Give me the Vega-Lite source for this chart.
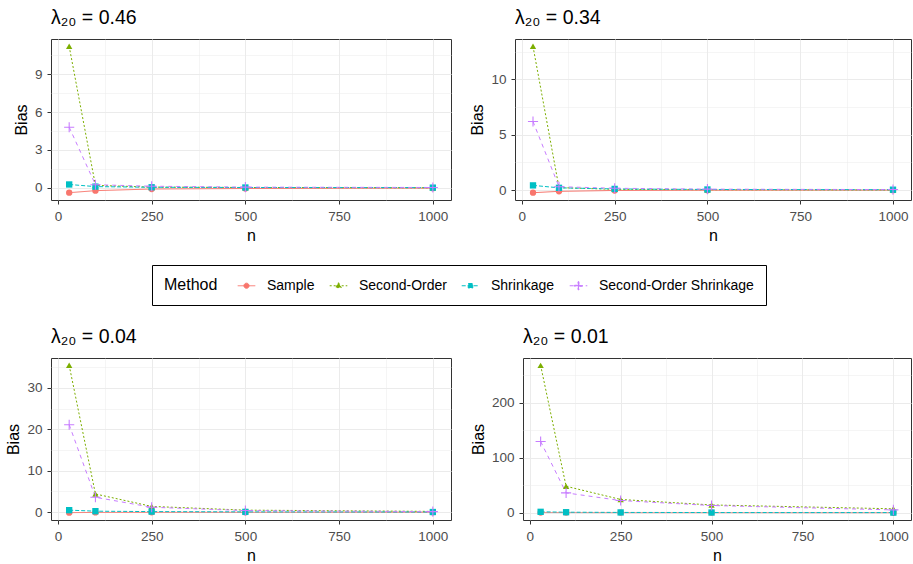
{
  "$schema": "https://vega.github.io/schema/vega-lite/v6.json",
  "padding": {"left": 5, "top": 7, "right": 0, "bottom": 0},
  "background": "white",
  "datasets": {
    "bias": [
      {"lam": "0.46", "n": 30, "Method": "Sample", "Bias": -0.38},
      {"lam": "0.46", "n": 100, "Method": "Sample", "Bias": -0.22},
      {"lam": "0.46", "n": 250, "Method": "Sample", "Bias": -0.09},
      {"lam": "0.46", "n": 500, "Method": "Sample", "Bias": -0.05},
      {"lam": "0.46", "n": 1000, "Method": "Sample", "Bias": -0.02},
      {"lam": "0.46", "n": 30, "Method": "Second-Order", "Bias": 11.2},
      {"lam": "0.46", "n": 100, "Method": "Second-Order", "Bias": 0.2},
      {"lam": "0.46", "n": 250, "Method": "Second-Order", "Bias": 0.06},
      {"lam": "0.46", "n": 500, "Method": "Second-Order", "Bias": 0.03},
      {"lam": "0.46", "n": 1000, "Method": "Second-Order", "Bias": 0.01},
      {"lam": "0.46", "n": 30, "Method": "Shrinkage", "Bias": 0.27},
      {"lam": "0.46", "n": 100, "Method": "Shrinkage", "Bias": 0.1},
      {"lam": "0.46", "n": 250, "Method": "Shrinkage", "Bias": 0.05},
      {"lam": "0.46", "n": 500, "Method": "Shrinkage", "Bias": 0.03},
      {"lam": "0.46", "n": 1000, "Method": "Shrinkage", "Bias": 0.02},
      {"lam": "0.46", "n": 30, "Method": "Second-Order Shrinkage", "Bias": 4.8},
      {"lam": "0.46", "n": 100, "Method": "Second-Order Shrinkage", "Bias": 0.25},
      {"lam": "0.46", "n": 250, "Method": "Second-Order Shrinkage", "Bias": 0.13},
      {"lam": "0.46", "n": 500, "Method": "Second-Order Shrinkage", "Bias": 0.06},
      {"lam": "0.46", "n": 1000, "Method": "Second-Order Shrinkage", "Bias": 0.03},

      {"lam": "0.34", "n": 30, "Method": "Sample", "Bias": -0.24},
      {"lam": "0.34", "n": 100, "Method": "Sample", "Bias": -0.12},
      {"lam": "0.34", "n": 250, "Method": "Sample", "Bias": -0.04},
      {"lam": "0.34", "n": 500, "Method": "Sample", "Bias": -0.02},
      {"lam": "0.34", "n": 1000, "Method": "Sample", "Bias": -0.01},
      {"lam": "0.34", "n": 30, "Method": "Second-Order", "Bias": 13.0},
      {"lam": "0.34", "n": 100, "Method": "Second-Order", "Bias": 0.22},
      {"lam": "0.34", "n": 250, "Method": "Second-Order", "Bias": 0.06},
      {"lam": "0.34", "n": 500, "Method": "Second-Order", "Bias": 0.03},
      {"lam": "0.34", "n": 1000, "Method": "Second-Order", "Bias": 0.01},
      {"lam": "0.34", "n": 30, "Method": "Shrinkage", "Bias": 0.42},
      {"lam": "0.34", "n": 100, "Method": "Shrinkage", "Bias": 0.2},
      {"lam": "0.34", "n": 250, "Method": "Shrinkage", "Bias": 0.1},
      {"lam": "0.34", "n": 500, "Method": "Shrinkage", "Bias": 0.05},
      {"lam": "0.34", "n": 1000, "Method": "Shrinkage", "Bias": 0.03},
      {"lam": "0.34", "n": 30, "Method": "Second-Order Shrinkage", "Bias": 6.2},
      {"lam": "0.34", "n": 100, "Method": "Second-Order Shrinkage", "Bias": 0.3},
      {"lam": "0.34", "n": 250, "Method": "Second-Order Shrinkage", "Bias": 0.16},
      {"lam": "0.34", "n": 500, "Method": "Second-Order Shrinkage", "Bias": 0.08},
      {"lam": "0.34", "n": 1000, "Method": "Second-Order Shrinkage", "Bias": 0.04},

      {"lam": "0.04", "n": 30, "Method": "Sample", "Bias": -0.1},
      {"lam": "0.04", "n": 100, "Method": "Sample", "Bias": -0.05},
      {"lam": "0.04", "n": 250, "Method": "Sample", "Bias": -0.03},
      {"lam": "0.04", "n": 500, "Method": "Sample", "Bias": -0.02},
      {"lam": "0.04", "n": 1000, "Method": "Sample", "Bias": -0.01},
      {"lam": "0.04", "n": 30, "Method": "Second-Order", "Bias": 35.4},
      {"lam": "0.04", "n": 100, "Method": "Second-Order", "Bias": 4.4},
      {"lam": "0.04", "n": 250, "Method": "Second-Order", "Bias": 1.4},
      {"lam": "0.04", "n": 500, "Method": "Second-Order", "Bias": 0.5},
      {"lam": "0.04", "n": 1000, "Method": "Second-Order", "Bias": 0.2},
      {"lam": "0.04", "n": 30, "Method": "Shrinkage", "Bias": 0.5},
      {"lam": "0.04", "n": 100, "Method": "Shrinkage", "Bias": 0.25},
      {"lam": "0.04", "n": 250, "Method": "Shrinkage", "Bias": 0.15},
      {"lam": "0.04", "n": 500, "Method": "Shrinkage", "Bias": 0.08},
      {"lam": "0.04", "n": 1000, "Method": "Shrinkage", "Bias": 0.05},
      {"lam": "0.04", "n": 30, "Method": "Second-Order Shrinkage", "Bias": 21.1},
      {"lam": "0.04", "n": 100, "Method": "Second-Order Shrinkage", "Bias": 3.6},
      {"lam": "0.04", "n": 250, "Method": "Second-Order Shrinkage", "Bias": 1.2},
      {"lam": "0.04", "n": 500, "Method": "Second-Order Shrinkage", "Bias": 0.4},
      {"lam": "0.04", "n": 1000, "Method": "Second-Order Shrinkage", "Bias": 0.15},

      {"lam": "0.01", "n": 30, "Method": "Sample", "Bias": 0.3},
      {"lam": "0.01", "n": 100, "Method": "Sample", "Bias": 0.2},
      {"lam": "0.01", "n": 250, "Method": "Sample", "Bias": 0.1},
      {"lam": "0.01", "n": 500, "Method": "Sample", "Bias": 0.05},
      {"lam": "0.01", "n": 1000, "Method": "Sample", "Bias": 0.02},
      {"lam": "0.01", "n": 30, "Method": "Second-Order", "Bias": 268},
      {"lam": "0.01", "n": 100, "Method": "Second-Order", "Bias": 48},
      {"lam": "0.01", "n": 250, "Method": "Second-Order", "Bias": 24},
      {"lam": "0.01", "n": 500, "Method": "Second-Order", "Bias": 14},
      {"lam": "0.01", "n": 1000, "Method": "Second-Order", "Bias": 7},
      {"lam": "0.01", "n": 30, "Method": "Shrinkage", "Bias": 1.5},
      {"lam": "0.01", "n": 100, "Method": "Shrinkage", "Bias": 0.8},
      {"lam": "0.01", "n": 250, "Method": "Shrinkage", "Bias": 0.4},
      {"lam": "0.01", "n": 500, "Method": "Shrinkage", "Bias": 0.2},
      {"lam": "0.01", "n": 1000, "Method": "Shrinkage", "Bias": 0.1},
      {"lam": "0.01", "n": 30, "Method": "Second-Order Shrinkage", "Bias": 129.5},
      {"lam": "0.01", "n": 100, "Method": "Second-Order Shrinkage", "Bias": 36},
      {"lam": "0.01", "n": 250, "Method": "Second-Order Shrinkage", "Bias": 22},
      {"lam": "0.01", "n": 500, "Method": "Second-Order Shrinkage", "Bias": 13},
      {"lam": "0.01", "n": 1000, "Method": "Second-Order Shrinkage", "Bias": 5}
    ]
  },
  "columns": 1,
  "align": "none",
  "spacing": 82,
  "resolve": {
    "scale": {"x": "independent", "y": "independent", "color": "shared"},
    "axis": {"x": "independent", "y": "independent"}
  },
  "concat": [
    {
      "spacing": 17,
      "resolve": {
        "scale": {"x": "independent", "y": "independent", "color": "shared"},
        "axis": {"x": "independent", "y": "independent"}
      },
      "hconcat": [
        {
          "width": 400, "height": 161,
          "title": {"text": "λ₂₀ = 0.46"},
          "data": {"name": "bias"},
          "transform": [{"filter": "datum.lam == '0.46'"}],
          "encoding": {
            "x": {"field": "n", "type": "quantitative", "title": "n",
                  "scale": {"domain": [-18.5, 1048.5], "nice": false, "zero": false},
                  "axis": {"values": [0, 125, 250, 375, 500, 625, 750, 875, 1000], "format": "d",
                           "labelExpr": "datum.value % 250 == 0 ? datum.label : ''",
                           "tickOpacity": {"condition": {"test": "datum.value % 250 != 0", "value": 0}, "value": 1},
                           "gridWidth": {"condition": {"test": "datum.value % 250 != 0", "value": 0.5}, "value": 1}}},
            "y": {"field": "Bias", "type": "quantitative", "title": "Bias",
                  "scale": {"domain": [-0.959, 11.779], "nice": false, "zero": false},
                  "axis": {"values": [0, 1.5, 3, 4.5, 6, 7.5, 9, 10.5],
                           "labelExpr": "datum.value % 3 == 0 ? datum.label : ''",
                           "tickOpacity": {"condition": {"test": "datum.value % 3 != 0", "value": 0}, "value": 1},
                           "gridWidth": {"condition": {"test": "datum.value % 3 != 0", "value": 0.5}, "value": 1}}}
          },
          "layer": [
            {"mark": {"type": "line", "strokeWidth": 1},
             "encoding": {
               "color": {"field": "Method", "type": "nominal",
                 "scale": {"domain": ["Sample", "Second-Order", "Shrinkage", "Second-Order Shrinkage"], "range": ["#F8766D", "#7CAE00", "#00BFC4", "#C77CFF"]},
                 "legend": {
                   "title": "Method",
                   "encoding": {"symbols": {
                     "shape": {"value": {"expr": "datum.value == 'Sample' ? 'M-1.1,0H1.1M0.32,0A0.32,0.32,0,1,1,-0.32,0A0.32,0.32,0,1,1,0.32,0Z' : datum.value == 'Second-Order' ? 'M-1.1,0H1.1M0,-0.38L0.35,0.23L-0.35,0.23Z' : datum.value == 'Shrinkage' ? 'M-1.1,0H1.1M-0.28,-0.28H0.28V0.28H-0.28Z' : 'M-1.1,0H1.1M-0.5,-0.06H0.5V0.06H-0.5ZM-0.06,-0.5H0.06V0.5H-0.06Z'"}},
                     "fill": {"value": {"expr": "datum.value == 'Sample' ? '#F8766D' : datum.value == 'Second-Order' ? '#7CAE00' : datum.value == 'Shrinkage' ? '#00BFC4' : '#C77CFF'"}},
                     "stroke": {"value": {"expr": "datum.value == 'Sample' ? '#F8766D' : datum.value == 'Second-Order' ? '#7CAE00' : datum.value == 'Shrinkage' ? '#00BFC4' : '#C77CFF'"}},
                     "strokeDash": {"value": {"expr": "datum.value == 'Sample' ? [1,0] : datum.value == 'Second-Order' ? [2,2] : datum.value == 'Shrinkage' ? [4,2] : [4,4]"}},
                     "strokeWidth": {"value": 1},
                     "opacity": {"value": 1},
                     "fillOpacity": {"value": 1},
                     "strokeOpacity": {"value": 1}
                   }}
                 }},
               "strokeDash": {"condition": [{"test": "datum.Method == 'Second-Order'", "value": [2, 2]}, {"test": "datum.Method == 'Shrinkage'", "value": [4, 2]}, {"test": "datum.Method == 'Second-Order Shrinkage'", "value": [4, 4]}], "value": [1, 0]}
             }},
            {"mark": {"type": "point", "filled": true, "opacity": 1, "size": 40},
             "encoding": {
               "color": {"field": "Method", "type": "nominal"},
               "shape": {"condition": [{"test": "datum.Method == 'Second-Order'", "value": "triangle-up"}, {"test": "datum.Method == 'Shrinkage'", "value": "square"}, {"test": "datum.Method == 'Second-Order Shrinkage'", "value": "M-1.6,-0.17H1.6V0.17H-1.6Z M-0.17,-1.6H0.17V1.6H-0.17Z"}], "value": "circle"}
             }}
          ]
        },
        {
          "width": 396, "height": 161,
          "title": {"text": "λ₂₀ = 0.34"},
          "data": {"name": "bias"},
          "transform": [{"filter": "datum.lam == '0.34'"}],
          "encoding": {
            "x": {"field": "n", "type": "quantitative", "title": "n",
                  "scale": {"domain": [-18.5, 1048.5], "nice": false, "zero": false},
                  "axis": {"values": [0, 125, 250, 375, 500, 625, 750, 875, 1000], "format": "d",
                           "labelExpr": "datum.value % 250 == 0 ? datum.label : ''",
                           "tickOpacity": {"condition": {"test": "datum.value % 250 != 0", "value": 0}, "value": 1},
                           "gridWidth": {"condition": {"test": "datum.value % 250 != 0", "value": 0.5}, "value": 1}}},
            "y": {"field": "Bias", "type": "quantitative", "title": "Bias",
                  "scale": {"domain": [-0.902, 13.662], "nice": false, "zero": false},
                  "axis": {"values": [0, 2.5, 5, 7.5, 10, 12.5],
                           "labelExpr": "datum.value % 5 == 0 ? datum.label : ''",
                           "tickOpacity": {"condition": {"test": "datum.value % 5 != 0", "value": 0}, "value": 1},
                           "gridWidth": {"condition": {"test": "datum.value % 5 != 0", "value": 0.5}, "value": 1}}}
          },
          "layer": [
            {"mark": {"type": "line", "strokeWidth": 1},
             "encoding": {
               "color": {"field": "Method", "type": "nominal"},
               "strokeDash": {"condition": [{"test": "datum.Method == 'Second-Order'", "value": [2, 2]}, {"test": "datum.Method == 'Shrinkage'", "value": [4, 2]}, {"test": "datum.Method == 'Second-Order Shrinkage'", "value": [4, 4]}], "value": [1, 0]}
             }},
            {"mark": {"type": "point", "filled": true, "opacity": 1, "size": 40},
             "encoding": {
               "color": {"field": "Method", "type": "nominal"},
               "shape": {"condition": [{"test": "datum.Method == 'Second-Order'", "value": "triangle-up"}, {"test": "datum.Method == 'Shrinkage'", "value": "square"}, {"test": "datum.Method == 'Second-Order Shrinkage'", "value": "M-1.6,-0.17H1.6V0.17H-1.6Z M-0.17,-1.6H0.17V1.6H-0.17Z"}], "value": "circle"}
             }}
          ]
        }
      ]
    },
    {
      "spacing": 17,
      "resolve": {
        "scale": {"x": "independent", "y": "independent", "color": "shared"},
        "axis": {"x": "independent", "y": "independent"}
      },
      "hconcat": [
        {
          "width": 400, "height": 162,
          "title": {"text": "λ₂₀ = 0.04"},
          "data": {"name": "bias"},
          "transform": [{"filter": "datum.lam == '0.04'"}],
          "encoding": {
            "x": {"field": "n", "type": "quantitative", "title": "n",
                  "scale": {"domain": [-18.5, 1048.5], "nice": false, "zero": false},
                  "axis": {"values": [0, 125, 250, 375, 500, 625, 750, 875, 1000], "format": "d",
                           "labelExpr": "datum.value % 250 == 0 ? datum.label : ''",
                           "tickOpacity": {"condition": {"test": "datum.value % 250 != 0", "value": 0}, "value": 1},
                           "gridWidth": {"condition": {"test": "datum.value % 250 != 0", "value": 0.5}, "value": 1}}},
            "y": {"field": "Bias", "type": "quantitative", "title": "Bias",
                  "scale": {"domain": [-1.875, 37.175], "nice": false, "zero": false},
                  "axis": {"values": [0, 5, 10, 15, 20, 25, 30, 35],
                           "labelExpr": "datum.value % 10 == 0 ? datum.label : ''",
                           "tickOpacity": {"condition": {"test": "datum.value % 10 != 0", "value": 0}, "value": 1},
                           "gridWidth": {"condition": {"test": "datum.value % 10 != 0", "value": 0.5}, "value": 1}}}
          },
          "layer": [
            {"mark": {"type": "line", "strokeWidth": 1},
             "encoding": {
               "color": {"field": "Method", "type": "nominal"},
               "strokeDash": {"condition": [{"test": "datum.Method == 'Second-Order'", "value": [2, 2]}, {"test": "datum.Method == 'Shrinkage'", "value": [4, 2]}, {"test": "datum.Method == 'Second-Order Shrinkage'", "value": [4, 4]}], "value": [1, 0]}
             }},
            {"mark": {"type": "point", "filled": true, "opacity": 1, "size": 40},
             "encoding": {
               "color": {"field": "Method", "type": "nominal"},
               "shape": {"condition": [{"test": "datum.Method == 'Second-Order'", "value": "triangle-up"}, {"test": "datum.Method == 'Shrinkage'", "value": "square"}, {"test": "datum.Method == 'Second-Order Shrinkage'", "value": "M-1.6,-0.17H1.6V0.17H-1.6Z M-0.17,-1.6H0.17V1.6H-0.17Z"}], "value": "circle"}
             }}
          ]
        },
        {
          "width": 388, "height": 162,
          "title": {"text": "λ₂₀ = 0.01"},
          "data": {"name": "bias"},
          "transform": [{"filter": "datum.lam == '0.01'"}],
          "encoding": {
            "x": {"field": "n", "type": "quantitative", "title": "n",
                  "scale": {"domain": [-18.5, 1048.5], "nice": false, "zero": false},
                  "axis": {"values": [0, 125, 250, 375, 500, 625, 750, 875, 1000], "format": "d",
                           "labelExpr": "datum.value % 250 == 0 ? datum.label : ''",
                           "tickOpacity": {"condition": {"test": "datum.value % 250 != 0", "value": 0}, "value": 1},
                           "gridWidth": {"condition": {"test": "datum.value % 250 != 0", "value": 0.5}, "value": 1}}},
            "y": {"field": "Bias", "type": "quantitative", "title": "Bias",
                  "scale": {"domain": [-13.38, 281.4], "nice": false, "zero": false},
                  "axis": {"values": [0, 50, 100, 150, 200, 250],
                           "labelExpr": "datum.value % 100 == 0 ? datum.label : ''",
                           "tickOpacity": {"condition": {"test": "datum.value % 100 != 0", "value": 0}, "value": 1},
                           "gridWidth": {"condition": {"test": "datum.value % 100 != 0", "value": 0.5}, "value": 1}}}
          },
          "layer": [
            {"mark": {"type": "line", "strokeWidth": 1},
             "encoding": {
               "color": {"field": "Method", "type": "nominal"},
               "strokeDash": {"condition": [{"test": "datum.Method == 'Second-Order'", "value": [2, 2]}, {"test": "datum.Method == 'Shrinkage'", "value": [4, 2]}, {"test": "datum.Method == 'Second-Order Shrinkage'", "value": [4, 4]}], "value": [1, 0]}
             }},
            {"mark": {"type": "point", "filled": true, "opacity": 1, "size": 40},
             "encoding": {
               "color": {"field": "Method", "type": "nominal"},
               "shape": {"condition": [{"test": "datum.Method == 'Second-Order'", "value": "triangle-up"}, {"test": "datum.Method == 'Shrinkage'", "value": "square"}, {"test": "datum.Method == 'Second-Order Shrinkage'", "value": "M-1.6,-0.17H1.6V0.17H-1.6Z M-0.17,-1.6H0.17V1.6H-0.17Z"}], "value": "circle"}
             }}
          ]
        }
      ]
    }
  ],
  "config": {
    "font": "Liberation Sans",
    "view": {"stroke": "#333333", "strokeWidth": 1},
    "title": {"anchor": "start", "frame": "group", "fontSize": 19.5, "fontWeight": "normal", "color": "black", "offset": 11},
    "axis": {
      "domain": false,
      "gridColor": "#EBEBEB",
      "tickColor": "#333333",
      "tickSize": 4,
      "labelColor": "#4D4D4D",
      "labelFontSize": 13.5,
      "labelPadding": 5,
      "titleFontSize": 16,
      "titleFontWeight": "normal",
      "titleColor": "black",
      "titlePadding": 5
    },
    "legend": {
      "orient": "none",
      "legendX": 101,
      "legendY": 226,
      "direction": "horizontal",
      "titleOrient": "left",
      "strokeColor": "black",
      "padding": 12,
      "symbolSize": 256,
      "labelFontSize": 14,
      "labelColor": "black",
      "titleFontSize": 16,
      "titleFontWeight": "normal",
      "titleColor": "black",
      "titleBaseline": "middle",
      "labelOffset": 12,
      "columnPadding": 12,
      "titlePadding": 20
    }
  }
}
